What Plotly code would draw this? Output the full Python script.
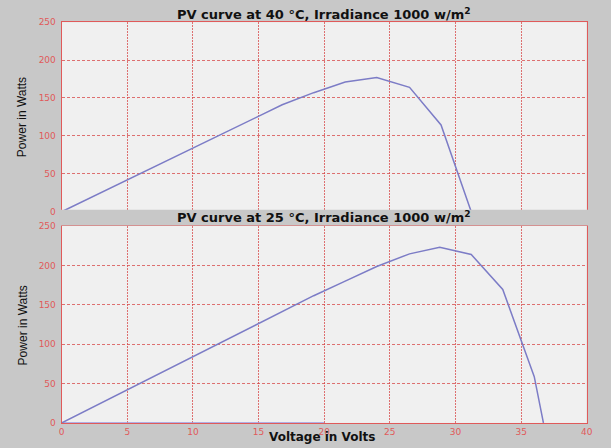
import plotly.graph_objects as go

# ---- data ----
volt_40 = [0, 14.4, 16.8, 19.2, 21.6, 24.0, 26.5, 28.9, 31.2]
power_40 = [0, 121, 141, 157, 171, 177, 164, 114.5, 0]

volt_25 = [0, 16.8, 19.2, 21.6, 24.0, 26.5, 28.8, 31.2, 33.6, 36.0, 36.7]
power_25 = [0, 141, 161.5, 180, 198.5, 214.6, 222.8, 213.8, 169.5, 58.7, 0]

zero_line_v = [0, 20]
zero_line_p = [0, 0]

x_ticks = [0, 5, 10, 15, 20, 25, 30, 35, 40]
y_ticks = [0, 50, 100, 150, 200, 250]

title_top = "PV curve at 40 °C, Irradiance 1000 w/m<sup>2</sup>"
title_bot = "PV curve at 25 °C, Irradiance 1000 w/m<sup>2</sup>"
x_title = "Voltage in Volts"
y_title = "Power in Watts"

W, H = 611, 448
BG = "#c8c8c8"
PLOT_BG = "#f0f0f0"
RED = "#e05a5a"
GRID = "rgba(215,70,70,0.75)"
LINE = "#7c7cc6"

def px_x(p):
    return p / W

def px_y(p):
    return 1 - p / H

fig = go.Figure()
fig.add_trace(go.Scatter(x=zero_line_v, y=zero_line_p, mode="lines",
                         line=dict(color="#9a9ae0", width=1.2), xaxis="x2", yaxis="y2",
                         showlegend=False, hoverinfo="skip", cliponaxis=False))
fig.add_trace(go.Scatter(x=volt_40, y=power_40, mode="lines",
                         line=dict(color=LINE, width=1.5), xaxis="x", yaxis="y",
                         showlegend=False))
fig.add_trace(go.Scatter(x=volt_25, y=power_25, mode="lines",
                         line=dict(color=LINE, width=1.5), xaxis="x2", yaxis="y2",
                         showlegend=False))

xdom = [px_x(59.5), px_x(592.5)]
tickfont = dict(family="DejaVu Sans", size=9, color=RED)

common_x = dict(range=[0, 40], tickvals=x_ticks, showgrid=True, gridcolor=GRID,
                griddash="2px,1px", gridwidth=1, showline=True, linecolor=RED,
                linewidth=1, mirror=True, zeroline=False, ticks="",
                tickfont=tickfont, domain=xdom, fixedrange=True)
common_y = dict(range=[0, 250], tickvals=y_ticks, showgrid=True, gridcolor=GRID,
                griddash="3px,2px", gridwidth=1, showline=True, linecolor=RED,
                linewidth=1, mirror=True, zeroline=False, ticks="",
                tickfont=tickfont, ticklabelstandoff=3, fixedrange=True)

title_font = dict(family="DejaVu Sans", size=13, color="#111111", weight="bold")

fig.update_layout(
    width=W, height=H,
    margin=dict(l=0, r=0, t=0, b=0),
    paper_bgcolor=BG, plot_bgcolor=PLOT_BG,
    xaxis=dict(**common_x, anchor="y", showticklabels=False),
    yaxis=dict(**common_y, domain=[px_y(211.5), px_y(17.5)], anchor="x"),
    xaxis2=dict(**common_x, anchor="y2", ticklabelstandoff=0),
    yaxis2=dict(**common_y, domain=[px_y(427.5), px_y(226)], anchor="x2"),
    shapes=[
        dict(type="rect", xref="paper", yref="paper",
             x0=px_x(57), x1=px_x(594), y0=px_y(225.5), y1=px_y(209.5),
             fillcolor=BG, line=dict(width=0), layer="above"),
    ],
    annotations=[
        dict(text=title_top, x=px_x(326), y=px_y(9), xref="paper", yref="paper",
             showarrow=False, xanchor="center", yanchor="middle", font=title_font),
        dict(text=title_bot, x=px_x(326), y=px_y(216.5), xref="paper", yref="paper",
             showarrow=False, xanchor="center", yanchor="middle", font=title_font),
        dict(text=x_title, x=px_x(324), y=0, xref="paper", yref="paper",
             showarrow=False, xanchor="center", yanchor="bottom", borderpad=0, yshift=-2,
             font=dict(family="DejaVu Sans", size=12, color="#111111", weight="bold")),
        dict(text=y_title, x=px_x(20), y=px_y(115), xref="paper", yref="paper",
             showarrow=False, xanchor="center", yanchor="middle", textangle=-90,
             font=dict(family="Liberation Sans Narrow, Liberation Sans", size=12, color="#111111")),
        dict(text=y_title, x=px_x(20), y=px_y(328), xref="paper", yref="paper",
             showarrow=False, xanchor="center", yanchor="middle", textangle=-90,
             font=dict(family="Liberation Sans Narrow, Liberation Sans", size=12, color="#111111")),
    ],
)

fig.write_html("out.html", config={"displayModeBar": False},
               post_script="document.body.style.margin='0';document.body.style.padding='0';document.body.style.overflow='hidden';")
